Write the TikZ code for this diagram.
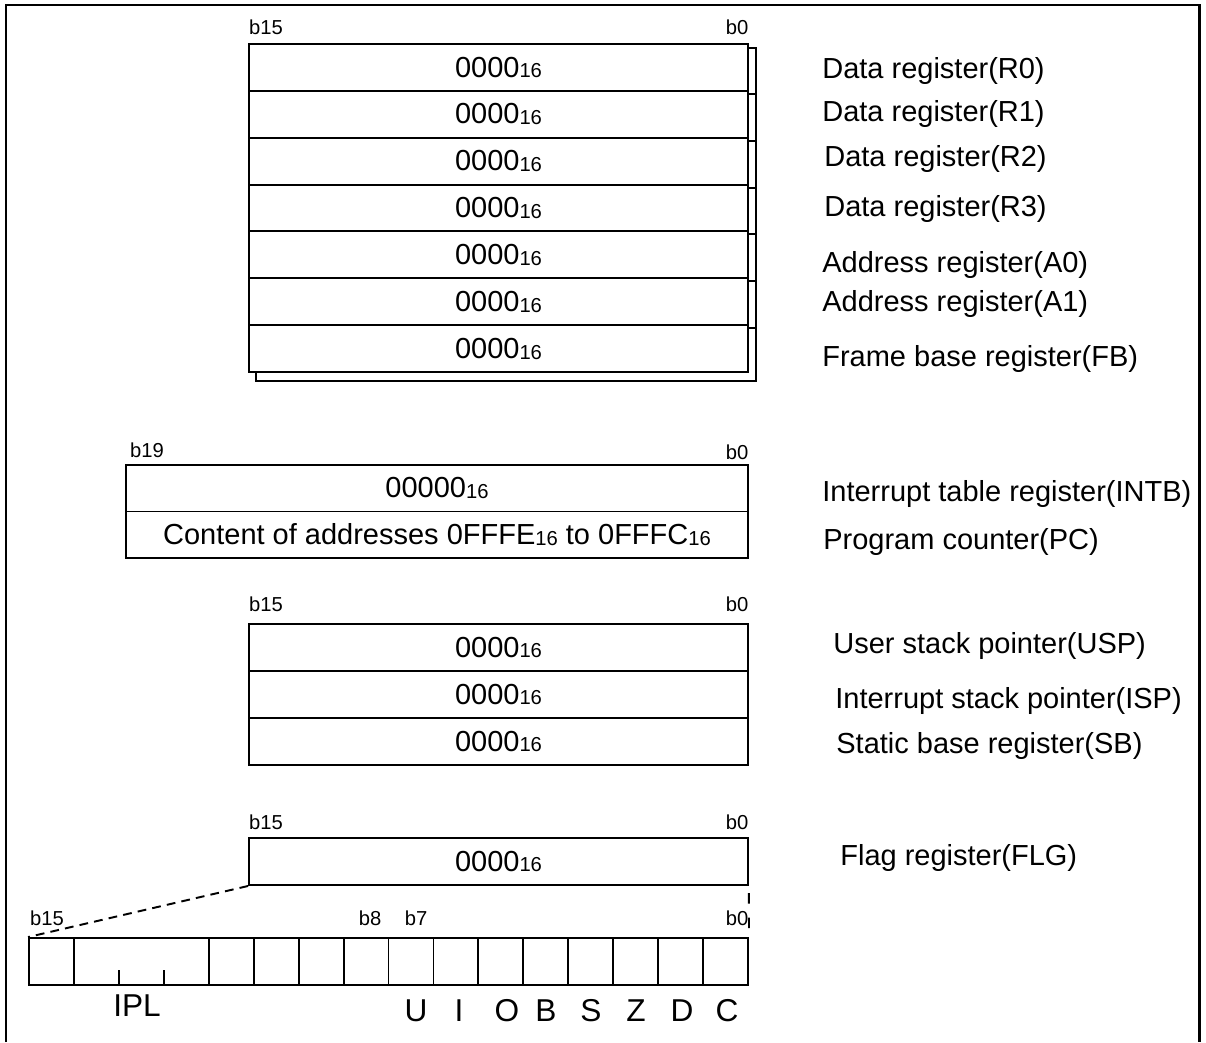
\documentclass[tikz,border=0pt]{standalone}
\usepackage{fontspec}
\setmainfont{Liberation Sans}
\newcommand{\hexv}[1]{#1\raisebox{-.05ex}{\fontsize{11.5}{12}\selectfont 16}}

\begin{document}
\begin{tikzpicture}[x=0.02cm, y=-0.02cm,
    reg/.style={draw, line width=1.1pt, minimum width=9.98cm, minimum height=0.937cm, inner sep=0pt, font=\fontsize{16.5}{18}\selectfont},
    cell/.style={draw, line width=1.1pt, minimum width=0.899cm, minimum height=0.94cm, inner sep=0pt},
    bitno/.style={inner sep=0pt, font=\fontsize{11.5}{12}\selectfont},
    lbl/.style={anchor=west, inner sep=0pt, font=\fontsize{16.5}{18}\selectfont},
    flagname/.style={inner sep=0pt, font=\fontsize{18}{20}\selectfont}]
	\useasboundingbox (0,0) rectangle (1206,1042);
	\draw[line width=1.7pt] (6,1042) -- (6,5) -- (1199,5) -- (1199,1042);

	% register bank
	\draw[line width=1.1pt] (748,48) -- (756,48) -- (756,381) -- (256,381) -- (256,372);
	\foreach \k in {1,...,6}
		\draw[line width=1.1pt] (748, 44+46.86*\k+3) -- ++(8,0);
	\foreach \n [count=\k from 0] in {r0,r1,r2,r3,a0,a1,fb}
		\node[reg] (\n) at (498.5, 44+46.86*\k+23.43) {\hexv{0000}};
	\node[bitno] (bankhi) at (266,27) {b15};
	\node[bitno] (banklo) at (737,27) {b0};

	\node[lbl] (lr0) at (822,71) {Data register(R0)};
	\node[lbl] (lr1) at (822,114) {Data register(R1)};
	\node[lbl] (lr2) at (824,159) {Data register(R2)};
	\node[lbl] (lr3) at (824,209) {Data register(R3)};
	\node[lbl] (la0) at (822,265) {Address register(A0)};
	\node[lbl] (la1) at (822,304) {Address register(A1)};
	\node[lbl] (lfb) at (822,359) {Frame base register(FB)};

	% INTB and PC
	\node[reg, minimum width=12.44cm, minimum height=0.93cm] (intb) at (437,488.25) {\hexv{00000}};
	\node[reg, minimum width=12.44cm, minimum height=0.93cm] (pc) at (437,534.75) {Content of addresses \hexv{0FFFE} to \hexv{0FFFC}};
	\node[bitno] (intbhi) at (147,450) {b19};
	\node[bitno] (intblo) at (737,452) {b0};
	\node[lbl] (lintb) at (822,494) {Interrupt table register(INTB)};
	\node[lbl] (lpc) at (823,542) {Program counter(PC)};

	% stack pointers
	\foreach \n [count=\k from 0] in {usp,isp,sb}
		\node[reg, minimum height=0.94cm] (\n) at (498.5, 624+47*\k+23.5) {\hexv{0000}};
	\node[bitno] (sphi) at (266,604) {b15};
	\node[bitno] (splo) at (737,604) {b0};
	\node[lbl] (lusp) at (833,646) {User stack pointer(USP)};
	\node[lbl] (lisp) at (835,701) {Interrupt stack pointer(ISP)};
	\node[lbl] (lsb) at (836,746) {Static base register(SB)};

	% flag register
	\node[reg, minimum height=0.94cm] (flg) at (498.5,861.5) {\hexv{0000}};
	\node[bitno] (flghi) at (266,822) {b15};
	\node[bitno] (flglo) at (737,822) {b0};
	\node[lbl] (lflg) at (840,858) {Flag register(FLG)};

	\node[cell] (bit15) at (51.47,961.5) {};
	\node[cell, minimum width=2.697cm] (ipl) at (141.4,961.5) {};
	\foreach \b in {0,...,11}
		\node[cell] (bit\b) at (29+44.94*15-44.94*\b+22.47, 961.5) {};
	\draw[line width=1.1pt] (119,985) -- ++(0,-15) (164,985) -- ++(0,-15);

	\draw[line width=1.1pt, dash pattern=on 5pt off 3.5pt] (flg.south west) -- (bit15.north west);
	\draw[line width=1.1pt, dash pattern=on 6pt off 8pt, dash phase=-4pt] (flg.south east) -- (bit0.north east);

	\node[bitno] (fhi) at (47,918) {b15};
	\node[bitno] (f8) at (370,918) {b8};
	\node[bitno] (f7) at (416,918) {b7};
	\node[bitno] (flo) at (737,918) {b0};

	\node[flagname] (nipl) at (137,1006) {IPL};
	\foreach \f/\x in {U/416,I/459,O/507,B/546,S/591,Z/636,D/682,C/727}
		\node[flagname] (n\f) at (\x,1011) {\f};
\end{tikzpicture}
\end{document}
